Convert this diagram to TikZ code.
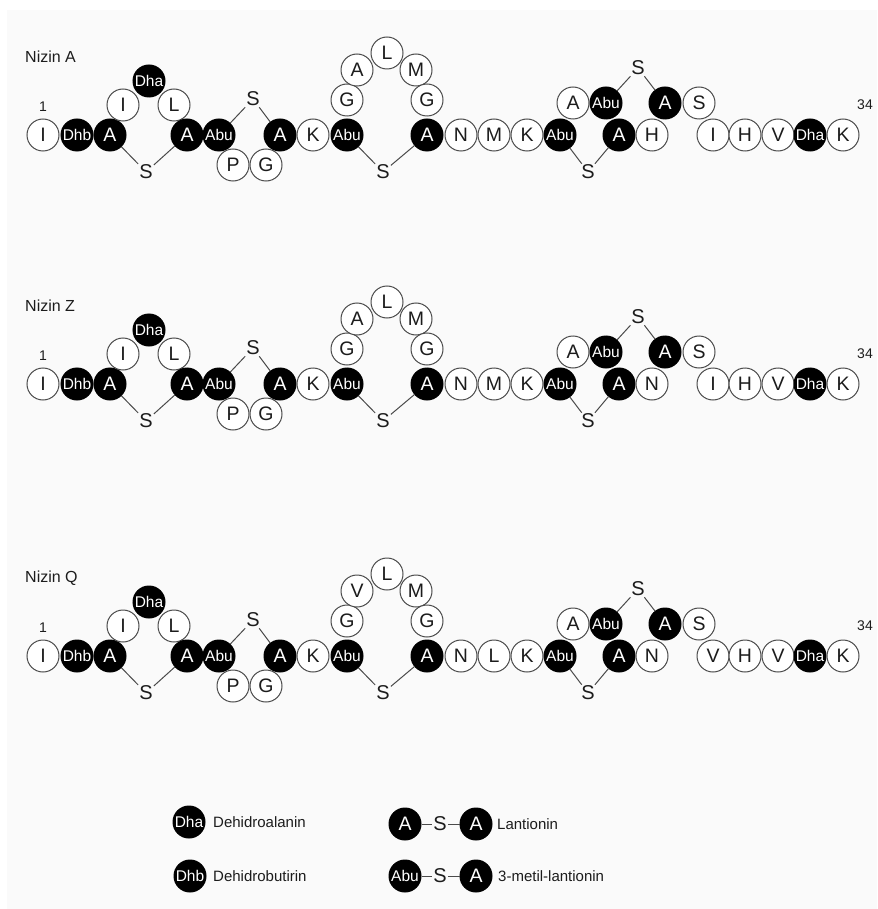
\documentclass[tikz,border=0pt]{standalone}
\usepackage{fontspec}
\setmainfont{Liberation Sans}
\definecolor{linec}{HTML}{4A4A4A}
\definecolor{txt}{HTML}{1C1C1C}
\definecolor{bgc}{HTML}{FAFAFA}
\tikzset{
  res/.style={circle, draw=linec, fill=white, line width=1pt, minimum size=32pt, inner sep=0pt, text=txt, font=\fontsize{19.5}{19.5}\selectfont},
  mod/.style={res, fill=black, draw=black, text=white},
  modsm/.style={mod, font=\fontsize{15.5}{15.5}\selectfont},
  sul/.style={inner sep=1pt, text=txt, font=\fontsize{20}{20}\selectfont},
  bond/.style={draw=linec, line width=1pt},
  lbl/.style={inner sep=0pt, text=txt, font=\fontsize{16}{16}\selectfont},
  num/.style={inner sep=0pt, text=txt, font=\fontsize{14}{14}\selectfont},
  leg/.style={inner sep=0pt, text=txt, font=\fontsize{15}{15}\selectfont}
}
\newcommand\nisinrow[7]{%
\begin{scope}[shift={(0,#1)}, name prefix=#7-]
 \node[lbl, anchor=west] (name) at (25,-78) {#2};
 \node[num] (n1) at (43,-28) {1};
 \node[num] (n34) at (865,-30) {34};
 \node[res] (c1) at (43,0) {I};
 \node[modsm] (c2) at (77,0) {Dhb};
 \node[mod] (c3) at (110,0) {A};
 \node[res] (c4) at (123,-30) {I};
 \node[modsm] (c5) at (149,-54) {Dha};
 \node[res] (c6) at (174,-30) {L};
 \node[mod] (c7) at (187,0) {A};
 \node[modsm] (c8) at (219,0) {Abu};
 \node[res] (c9) at (233,30) {P};
 \node[res] (c10) at (266,30) {G};
 \node[mod] (c11) at (280,0) {A};
 \node[res] (c12) at (313,0) {K};
 \node[modsm] (c13) at (347,0) {Abu};
 \node[res] (c14) at (347,-35) {G};
 \node[res] (c15) at (357,-65) {#3};
 \node[res] (c16) at (387,-82) {L};
 \node[res] (c17) at (416,-65) {M};
 \node[res] (c18) at (427,-35) {G};
 \node[mod] (c19) at (427,0) {A};
 \node[res] (c20) at (461,0) {N};
 \node[res] (c21) at (494,0) {#4};
 \node[res] (c22) at (527,0) {K};
 \node[modsm] (c23) at (560,0) {Abu};
 \node[res] (c24) at (573,-32) {A};
 \node[modsm] (c25) at (606,-32) {Abu};
 \node[mod] (c26) at (619,0) {A};
 \node[res] (c27) at (652,0) {#5};
 \node[mod] (c28) at (665,-32) {A};
 \node[res] (c29) at (699,-32) {S};
 \node[res] (c30) at (713,0) {#6};
 \node[res] (c31) at (745,0) {H};
 \node[res] (c32) at (778,0) {V};
 \node[modsm] (c33) at (810,0) {Dha};
 \node[res] (c34) at (843,0) {K};
 \node[sul] (s1) at (146,37) {S};
 \node[sul] (s2) at (253,-36) {S};
 \node[sul] (s3) at (383,37) {S};
 \node[sul] (s4) at (588,37) {S};
 \node[sul] (s5) at (638,-67) {S};
 \draw[bond] (c3) -- (s1) -- (c7);
 \draw[bond] (c8) -- (s2) -- (c11);
 \draw[bond] (c13) -- (s3) -- (c19);
 \draw[bond] (c23) -- (s4) -- (c26);
 \draw[bond] (c25) -- (s5) -- (c28);
\end{scope}}
\begin{document}
\begin{tikzpicture}[x=1pt, y=-1pt]
\useasboundingbox (0,0) rectangle (877,909);
\fill[white] (0,0) rectangle (877,909);
\fill[bgc] (7,10) rectangle (877,909);
\nisinrow{135}{Nizin A}{A}{M}{H}{I}{a}
\nisinrow{384}{Nizin Z}{A}{M}{N}{I}{z}
\nisinrow{656}{Nizin Q}{V}{L}{N}{V}{q}
% legend
\node[modsm] (ldha) at (189,822) {Dha};
\node[leg, anchor=west] (tdha) at (213,822) {Dehidroalanin};
\node[modsm] (ldhb) at (190,876) {Dhb};
\node[leg, anchor=west] (tdhb) at (213,876) {Dehidrobutirin};
\node[mod] (la1) at (405,824) {A};
\node[sul] (ls1) at (440,824) {S};
\node[mod] (la2) at (476,824) {A};
\node[leg, anchor=west] (tlan) at (497,824) {Lantionin};
\node[modsm] (lb1) at (405,876) {Abu};
\node[sul] (ls2) at (440,876) {S};
\node[mod] (lb2) at (476,876) {A};
\node[leg, anchor=west] (tmlan) at (498,876) {3-metil-lantionin};
\draw[bond] (la1) -- (ls1) -- (la2);
\draw[bond] (lb1) -- (ls2) -- (lb2);
\end{tikzpicture}
\end{document}
